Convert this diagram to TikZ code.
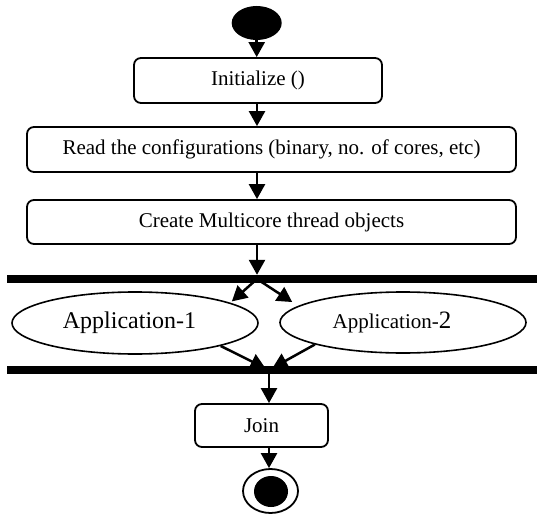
\documentclass[tikz,border=0pt]{standalone}
\usepackage{fontspec}
\setmainfont{Liberation Serif}
\usetikzlibrary{shapes.geometric,arrows.meta,calc}
\tikzset{
  actbox/.style={draw, line width=1.8bp, rounded corners=7bp, inner sep=0pt, font=\fontsize{21bp}{25bp}\selectfont},
  appell/.style={draw, ellipse, line width=1.6bp, inner sep=0pt},
  bar/.style={fill=black, draw=none, inner sep=0pt, minimum height=8bp},
  flow/.style={line width=2.5bp, -{Triangle[length=15bp,width=16bp]}},
}
\begin{document}
\begin{tikzpicture}[x=1bp,y=-1bp]
\useasboundingbox (0,0) rectangle (537,520);
\node[ellipse, fill=black, inner sep=0pt, minimum width=50bp, minimum height=34bp] (start) at (256.7,23) {};
\node[actbox, minimum width=248bp, minimum height=45bp] (init) at (258,80.5) {Initialize ()};
\node[actbox, minimum width=489bp, minimum height=45bp] (read) at (271.5,149.5) {Read the configurations (binary, no. of cores, etc)};
\node[actbox, minimum width=489bp, minimum height=44bp] (create) at (271.5,222) {Create Multicore thread objects};
\node[bar, minimum width=530bp] (fbar) at (272,279) {};
\node[appell, minimum width=246bp, minimum height=62bp, font=\fontsize{24bp}{28bp}\selectfont] (app1) at (135,323) {\hspace*{-11bp}Application-1};
\node[appell, minimum width=246bp, minimum height=61bp, font=\fontsize{21bp}{25bp}\selectfont] (app2) at (403,322.5) {\hspace*{-22bp}Application-{\fontsize{25bp}{28bp}\selectfont 2}};
\node[bar, minimum width=530bp] (jbar) at (272,370) {};
\node[actbox, minimum width=133bp, minimum height=43bp] (join) at (261.5,425.5) {Join};
\node[ellipse, draw, line width=1.8bp, inner sep=0pt, minimum width=55bp, minimum height=44bp] (endo) at (270.5,491) {};
\node[ellipse, fill=black, inner sep=0pt, minimum width=34bp, minimum height=31bp] (endi) at (271,491.5) {};
\coordinate (fj) at (257,279);
\coordinate (jj) at (269,370);
\draw[flow] (start.south) -- (start.south |- init.north);
\draw[flow] (fj |- init.south) -- (fj |- read.north);
\draw[flow] (fj |- read.south) -- (fj |- create.north);
\draw[flow] (fj |- create.south) -- (fj |- fbar.north);
\draw[flow, shorten >=2bp] (fj) -- (app1.12);
\draw[flow, shorten >=7bp] (fj) -- (app2.171);
\draw[flow, shorten >=4bp] (app1.-15) -- (jj);
\draw[flow, shorten >=4bp] (app2.194) -- (jj);
\draw[flow] (jj) -- (jj |- join.north);
\draw[flow] (jj |- join.south) -- (jj |- endo.north);
\end{tikzpicture}
\end{document}
